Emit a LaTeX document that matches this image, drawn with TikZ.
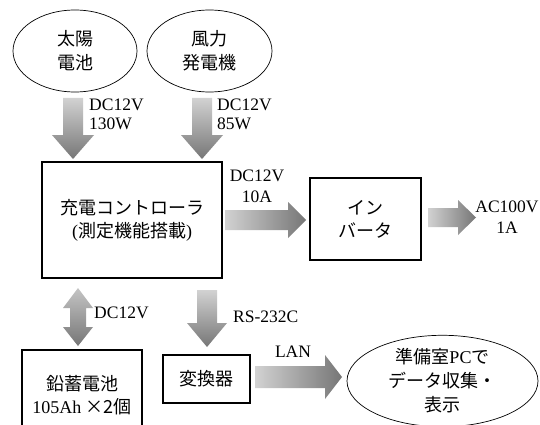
\documentclass[tikz,border=0pt]{standalone}
\usepackage{fontspec}
\setmainfont{Liberation Serif}
\newfontfamily\jp{Noto Sans CJK JP}
\usetikzlibrary{shapes.geometric}
\definecolor{arrlight}{HTML}{D2D2D2}
\definecolor{arrdark}{HTML}{767676}
\tikzset{
  oval/.style={draw, ellipse, line width=0.7pt, inner sep=0pt, align=center, font=\fontsize{18}{24}\selectfont},
  blk/.style={draw, rectangle, line width=1.1pt, inner sep=0pt, align=center, font=\fontsize{18}{23}\selectfont},
  lbl/.style={inner sep=0pt, align=left, font=\fontsize{17.5}{19}\selectfont},
  lblc/.style={inner sep=0pt, align=center, font=\fontsize{17.5}{21}\selectfont},
  vshade/.style={top color=arrlight, bottom color=arrdark, draw=none},
  hshade/.style={left color=arrlight, right color=arrdark, draw=none}
}
\begin{document}
\begin{tikzpicture}[x=1pt,y=-1pt]
\useasboundingbox (0,0) rectangle (540,425);
\clip (0,0) rectangle (540,425);
\fill[white] (0,0) rectangle (540,425);
% sources
\node[oval, minimum width=124, minimum height=82] (sun) at (75,51) {{\jp 太陽}\\{\jp 電池}};
\node[oval, minimum width=125, minimum height=82] (wind) at (209.5,51) {{\jp 風力}\\{\jp 発電機}};
% controller, inverter
\node[blk, minimum width=180, minimum height=116] (ctrl) at (132,220) {{\jp 充電コントローラ}\\({\jp 測定機能搭載})};
\node[blk, minimum width=111, minimum height=82] (inv) at (365.5,219) {{\jp イン}\\{\jp バータ}};
% battery, converter
\node[blk, minimum width=120, minimum height=90] (bat) at (82,395) {{\jp 鉛蓄電池}\\105Ah {\jp ×2個}};
\node[blk, minimum width=87, minimum height=48] (conv) at (206.5,379) {{\jp 変換器}};
% PC
\node[oval, minimum width=191, minimum height=84] (pc) at (442.5,381) {{\jp 準備室}PC{\jp で}\\{\jp データ収集・}\\{\jp 表示}};
% block arrows
\shade[vshade] (63,98) -- (83,98) -- (83,135) -- (94,135) -- (73,159) -- (52,135) -- (63,135) -- cycle;
\shade[vshade] (192,98) -- (212,98) -- (212,135) -- (223,135) -- (202,159) -- (181,135) -- (192,135) -- cycle;
\shade[hshade] (225,210) -- (288,210) -- (288,202) -- (306,220) -- (288,238) -- (288,230) -- (225,230) -- cycle;
\shade[hshade] (428,208) -- (458,208) -- (458,200) -- (476,217.5) -- (458,235) -- (458,227) -- (428,227) -- cycle;
\shade[top color=arrlight!85!arrdark, bottom color=arrdark] (78,288) -- (93,308) -- (86,308) -- (86,327) -- (93,327) -- (78,346) -- (63,327) -- (70,327) -- (70,308) -- (63,308) -- cycle;
\shade[vshade] (197,290) -- (217,290) -- (217,323) -- (227,323) -- (207,347) -- (187,323) -- (197,323) -- cycle;
\shade[hshade] (255,366) -- (325,366) -- (325,355) -- (342,377) -- (325,399) -- (325,388) -- (255,388) -- cycle;
% labels
\node[lbl, anchor=west] (l1) at (89,114) {DC12V\\130W};
\node[lbl, anchor=west] (l2) at (217,114) {DC12V\\85W};
\node[lblc] (l3) at (257,186) {DC12V\\10A};
\node[lblc] (l4) at (507,217) {AC100V\\1A};
\node[lbl, anchor=west] (l5) at (94,313) {DC12V};
\node[lbl, anchor=west] (l6) at (233,317) {RS-232C};
\node[lblc] (l7) at (293,352) {LAN};
\end{tikzpicture}
\end{document}
